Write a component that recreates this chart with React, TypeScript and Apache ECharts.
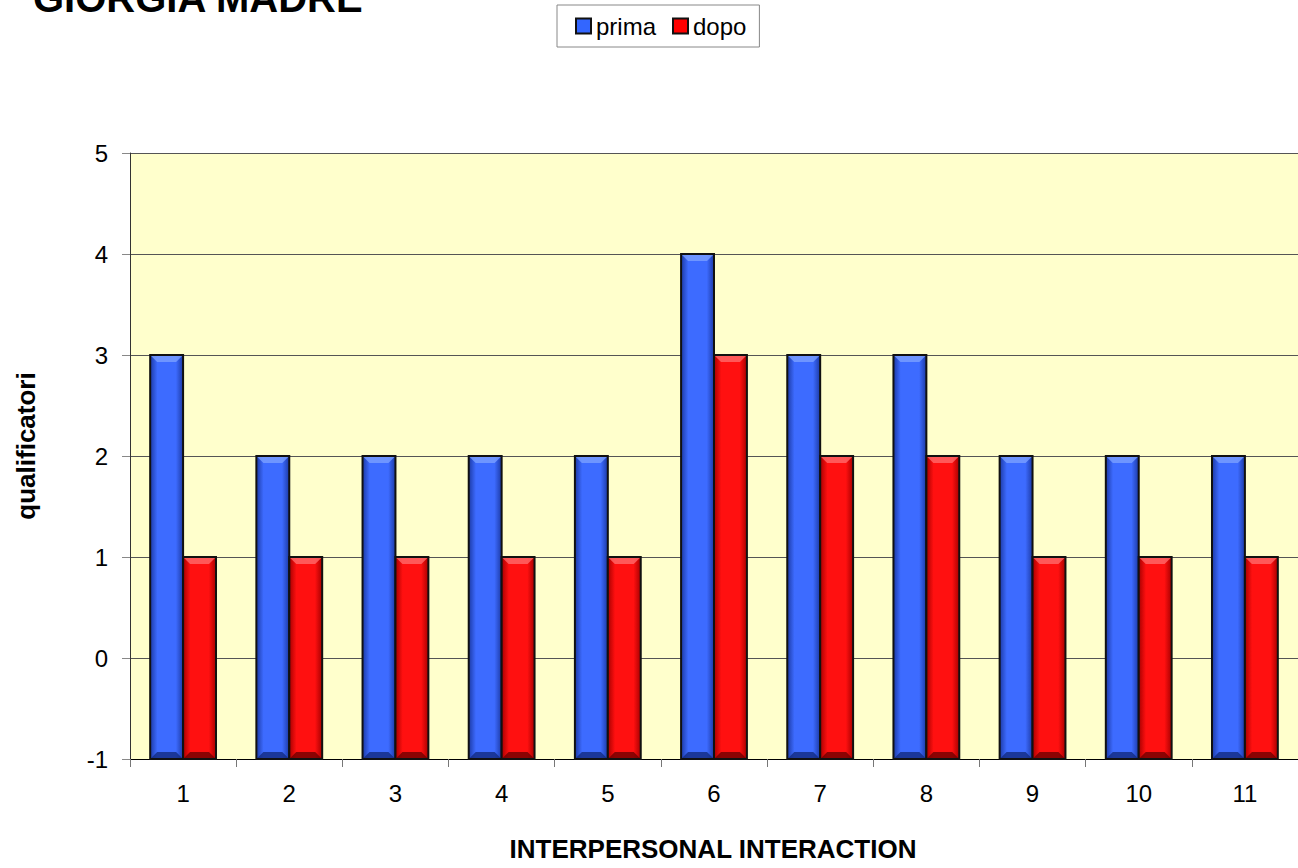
import React, { useEffect, useRef } from "react";
import * as echarts from "echarts";

const categories = ["1", "2", "3", "4", "5", "6", "7", "8", "9", "10", "11"];
const prima = [3, 2, 2, 2, 2, 4, 3, 3, 2, 2, 2];
const dopo = [1, 1, 1, 1, 1, 3, 2, 2, 1, 1, 1];
const seriesNames = ["prima", "dopo"];
const yMin = -1;
const yMax = 5;
const titleText = "GIORGIA MADRE";
const xAxisName = "INTERPERSONAL INTERACTION";
const yAxisName = "qualificatori";

const FONT = "Arial, 'Liberation Sans', sans-serif";

const palettes = [
  { edge: "#1c3aa6", mid: "#3d6bff", light: "#7aa0ff", dark: "#132a80", flat: "#3366ff" },
  { edge: "#a80000", mid: "#ff1010", light: "#ff6a6a", dark: "#6e0000", flat: "#ff0000" },
];

function makeRender(seriesIdx: number) {
  const p = palettes[seriesIdx];
  return (params: any, api: any) => {
    const idx = api.value(0);
    const val = api.value(1);
    const top = api.coord([idx, val]);
    const base = api.coord([idx, yMin]);
    const bandW = api.size([1, 0])[0];
    const barW = bandW * 0.31;
    const x = seriesIdx === 0 ? top[0] - barW : top[0];
    const y = top[1];
    const h = base[1] - top[1];
    const b = 7;
    const grad = new echarts.graphic.LinearGradient(0, 0, 1, 0, [
      { offset: 0, color: p.edge },
      { offset: 0.22, color: p.mid },
      { offset: 0.78, color: p.mid },
      { offset: 1, color: p.edge },
    ]);
    return {
      type: "group",
      children: [
        {
          type: "rect",
          shape: { x, y, width: barW, height: h },
          style: { fill: grad, stroke: "#111", lineWidth: 2 },
        },
        {
          type: "polygon",
          shape: {
            points: [
              [x + 1, y + 1],
              [x + barW - 1, y + 1],
              [x + barW - b, y + b],
              [x + b, y + b],
            ],
          },
          style: { fill: p.light, opacity: 0.8 },
        },
        {
          type: "polygon",
          shape: {
            points: [
              [x + 1, y + h - 1],
              [x + barW - 1, y + h - 1],
              [x + barW - b, y + h - b],
              [x + b, y + h - b],
            ],
          },
          style: { fill: p.dark, opacity: 0.8 },
        },
      ],
    };
  };
}

export default function App() {
  const ref = useRef<HTMLDivElement>(null);
  useEffect(() => {
    document.body.style.margin = "0";
    const chart = echarts.init(ref.current!, null, { renderer: "svg" });
    const seriesData = [prima, dopo];
    chart.setOption({
      animation: false,
      textStyle: { fontFamily: FONT },
      grid: {
        left: 130,
        right: 0,
        top: 153,
        bottom: 109,
        show: true,
        backgroundColor: "#ffffcc",
        borderWidth: 0,
      },
      legend: {
        left: 557,
        top: 5,
        orient: "horizontal",
        padding: [9, 13, 9, 18],
        itemGap: 16,
        itemWidth: 15,
        itemHeight: 15,
        borderColor: "#888",
        borderWidth: 1,
        textStyle: { fontSize: 24, color: "#000", fontFamily: FONT },
        data: seriesNames.map((n, i) => ({
          name: n,
          icon: "rect",
          itemStyle: { color: palettes[i].flat, borderColor: "#111", borderWidth: 2 },
        })),
      },
      xAxis: {
        type: "category",
        data: categories,
        boundaryGap: true,
        axisLine: { show: true, onZero: false, lineStyle: { color: "#000", width: 1 } },
        axisTick: { show: true, length: 8, lineStyle: { color: "#777" } },
        axisLabel: { fontSize: 24, color: "#000", margin: 22, fontFamily: FONT },
        splitLine: { show: false },
      },
      yAxis: {
        type: "value",
        min: yMin,
        max: yMax,
        interval: 1,
        axisLine: { show: true, lineStyle: { color: "#333", width: 1 } },
        axisTick: { show: true, length: 8, lineStyle: { color: "#888" } },
        axisLabel: { fontSize: 24, color: "#000", margin: 22, fontFamily: FONT },
        splitLine: { show: true, lineStyle: { color: "#555", width: 1 } },
      },
      graphic: [
        {
          type: "text",
          x: 33,
          y: -2,
          style: {
            text: titleText,
            font: `bold 40px ${FONT}`,
            fill: "#000",
            verticalAlign: "middle",
            align: "left",
          },
        },
        {
          type: "text",
          x: 713,
          y: 849,
          style: {
            text: xAxisName,
            font: `bold 26px ${FONT}`,
            fill: "#000",
            verticalAlign: "middle",
            align: "center",
          },
        },
        {
          type: "text",
          x: 26,
          y: 446,
          rotation: Math.PI / 2,
          style: {
            text: yAxisName,
            font: `bold 26px ${FONT}`,
            fill: "#000",
            verticalAlign: "middle",
            align: "center",
          },
        },
      ],
      series: seriesNames.map((name, si) => ({
        name,
        type: "custom",
        renderItem: makeRender(si),
        encode: { x: 0, y: 1 },
        itemStyle: { color: palettes[si].flat },
        data: seriesData[si].map((v, i) => [i, v]),
        z: 3,
      })),
    });
    return () => chart.dispose();
  }, []);
  return <div ref={ref} style={{ width: 1298, height: 868 }} />;
}
